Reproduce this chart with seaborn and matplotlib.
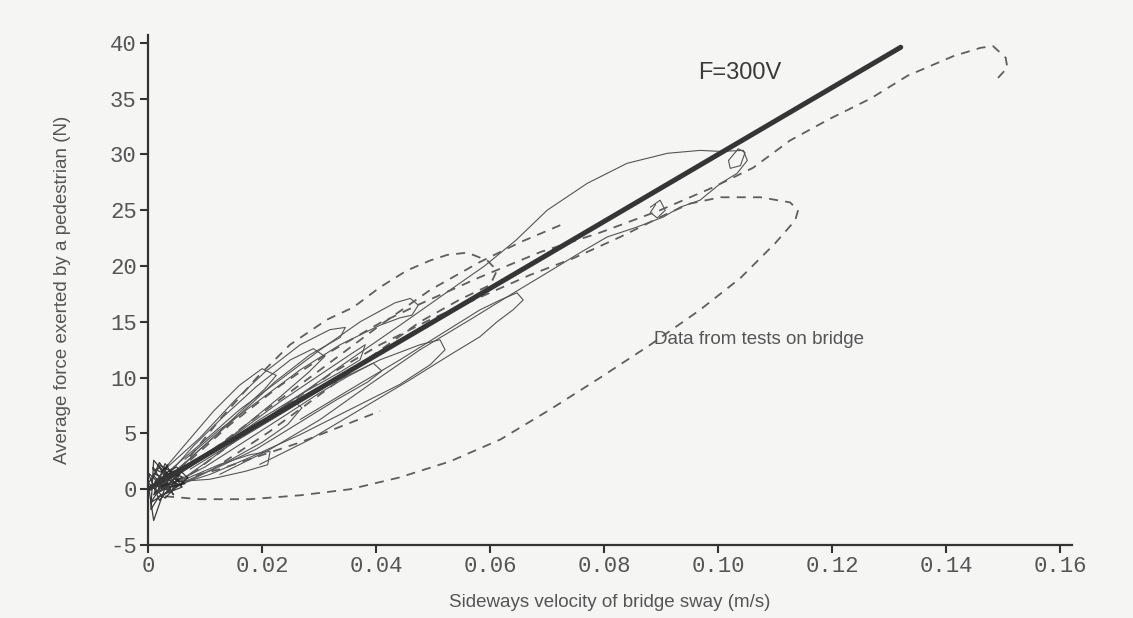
import pandas as pd
import matplotlib
matplotlib.use("Agg")
import matplotlib.pyplot as plt
import seaborn as sns

# fitted line F = 300V
fit_v = [0.0, 0.132]
fit_f = [0.0, 39.6]

# dashed traces (velocity m/s, force N)
big_low_v = [0.0030, 0.0091, 0.0179, 0.0267, 0.0354, 0.0442, 0.0530, 0.0618, 0.0705, 0.0793,
             0.0881, 0.0968, 0.1039, 0.1100, 0.1135, 0.1140, 0.1126, 0.1074, 0.1004, 0.0951,
             0.0911, 0.0828, 0.0746, 0.0670, 0.0582, 0.0495, 0.0407, 0.0319, 0.0232, 0.0144,
             0.0074, 0.0021]
big_low_f = [-0.63, -0.89, -0.89, -0.54, 0.0, 1.07, 2.5, 4.46, 7.14, 10.0,
             12.95, 16.07, 18.93, 22.05, 24.1, 25.0, 25.7, 26.16, 26.16, 25.6,
             24.7, 22.6, 20.7, 19.2, 17.2, 15.2, 12.95, 10.3, 7.1, 4.0,
             1.3, 0.2]

top_right_v = [0.0074, 0.0144, 0.0232, 0.0319, 0.0407, 0.0477, 0.0582, 0.0688, 0.0793, 0.0898,
               0.0991, 0.1061, 0.1126, 0.1196, 0.1267, 0.1332, 0.1412, 0.1460, 0.1482, 0.1504,
               0.1507, 0.1486]
top_right_f = [2.6, 5.8, 9.3, 12.3, 14.9, 16.6, 19.0, 21.25, 23.0, 25.0,
               27.05, 28.8, 31.25, 33.2, 35.0, 37.05, 38.8, 39.55, 39.7, 38.66,
               37.77, 36.6]

upper_left_v = [0.0056, 0.0126, 0.0191, 0.0249, 0.0314, 0.0360, 0.0407, 0.0454, 0.0495, 0.0525,
                0.0560, 0.0595, 0.0612, 0.0600, 0.0547, 0.0477, 0.0389, 0.0302, 0.0214, 0.0126]
upper_left_f = [1.79, 6.25, 10.0, 12.95, 15.2, 16.3, 18.1, 19.6, 20.5, 21.0,
                21.2, 20.5, 19.6, 18.3, 17.0, 15.0, 11.8, 8.5, 5.2, 2.2]

mid_dash_v = [0.0091, 0.0196, 0.0302, 0.0407, 0.0495, 0.0582, 0.0653, 0.0723]
mid_dash_f = [2.68, 6.7, 10.7, 14.7, 17.86, 20.36, 22.14, 23.66]

low_dash_v = [0.0056, 0.0126, 0.0196, 0.0267, 0.0337, 0.0407]
low_dash_f = [0.9, 1.8, 3.0, 4.2, 5.6, 7.0]

# solid traces
long_loop_v = [0.0179, 0.0267, 0.0354, 0.0442, 0.0530, 0.0590, 0.0645, 0.0700, 0.0770, 0.0840,
               0.0911, 0.0968, 0.1004, 0.1044, 0.1051, 0.1033, 0.1004, 0.0968, 0.0933, 0.0904,
               0.0858, 0.0805, 0.0758, 0.0700, 0.0635, 0.0565, 0.0477, 0.0389, 0.0302, 0.0214,
               0.0126]
long_loop_f = [5.36, 8.48, 11.6, 14.7, 17.86, 20.0, 22.3, 25.0, 27.4, 29.2,
               30.1, 30.36, 30.27, 30.36, 29.46, 28.3, 27.4, 25.9, 25.27, 24.4,
               23.5, 22.6, 21.2, 19.4, 17.4, 15.2, 12.5, 9.4, 6.25, 3.57,
               1.34]

small_loop_v = [0.0267, 0.0354, 0.0442, 0.0512, 0.0582, 0.0618, 0.0647, 0.0658, 0.0640, 0.0612,
                0.0582, 0.0530, 0.0460, 0.0372, 0.0284, 0.0196]
small_loop_f = [6.25, 8.93, 11.6, 13.84, 16.07, 16.96, 17.6, 16.96, 16.07, 15.0,
                13.66, 12.05, 9.82, 7.14, 4.46, 2.23]

band_a_v = [0.0030, 0.0091, 0.0161, 0.0232, 0.0302, 0.0372, 0.0433, 0.0460, 0.0474, 0.0463,
            0.0442, 0.0407, 0.0337, 0.0267, 0.0196, 0.0126, 0.0065]
band_a_f = [1.34, 4.0, 7.14, 9.82, 12.5, 15.0, 16.7, 17.1, 16.5, 15.6,
            15.36, 14.7, 12.95, 10.7, 8.0, 5.36, 2.68]

band_b_v = [0.0039, 0.0109, 0.0179, 0.0267, 0.0354, 0.0442, 0.0495, 0.0521, 0.0512, 0.0477,
            0.0407, 0.0319, 0.0232, 0.0144, 0.0074]
band_b_f = [0.18, 1.34, 2.86, 4.9, 7.14, 9.4, 11.16, 12.5, 13.4, 12.95,
            11.6, 9.4, 6.7, 4.0, 1.8]

band_c_v = [0.0021, 0.0091, 0.0161, 0.0232, 0.0302, 0.0354, 0.0381, 0.0372, 0.0337, 0.0267,
            0.0196, 0.0126, 0.0056]
band_c_f = [0.9, 2.86, 5.18, 7.86, 10.27, 12.05, 12.95, 11.6, 10.5, 8.48,
            6.25, 3.75, 1.6]

band_d_v = [0.0030, 0.0091, 0.0153, 0.0205, 0.0267, 0.0319, 0.0346, 0.0337, 0.0284, 0.0223,
            0.0161, 0.0091, 0.0039]
band_d_f = [1.8, 4.6, 8.0, 10.5, 12.95, 14.3, 14.5, 13.6, 12.05, 9.64,
            6.7, 3.57, 1.07]

band_e_v = [0.0056, 0.0126, 0.0179, 0.0214, 0.0210, 0.0170, 0.0109, 0.0056]
band_e_f = [0.7, 2.23, 3.1, 3.4, 2.2, 1.6, 0.9, 0.7]

band_f_v = [0.0040, 0.0100, 0.0170, 0.0240, 0.0300, 0.0350, 0.0395, 0.0410, 0.0385, 0.0330,
            0.0260, 0.0190, 0.0120, 0.0060]
band_f_f = [0.4, 2.0, 4.3, 6.6, 8.6, 10.1, 11.3, 10.6, 9.6, 8.0,
            5.8, 3.6, 1.9, 0.6]

band_g_v = [0.0030, 0.0080, 0.0130, 0.0190, 0.0250, 0.0290, 0.0310, 0.0280, 0.0230, 0.0170,
            0.0110, 0.0050]
band_g_f = [1.0, 3.9, 6.4, 9.2, 11.6, 12.6, 11.9, 10.4, 8.2, 5.7,
            3.2, 1.2]

band_h_v = [0.0050, 0.0090, 0.0140, 0.0200, 0.0245, 0.0270, 0.0255, 0.0215, 0.0160, 0.0110,
            0.0060]
band_h_f = [0.2, 1.2, 2.5, 4.2, 5.8, 7.3, 7.9, 6.6, 4.6, 2.7,
            0.9]

band_i_v = [0.0025, 0.0070, 0.0115, 0.0160, 0.0200, 0.0225, 0.0205, 0.0165, 0.0120, 0.0070,
            0.0030]
band_i_f = [1.6, 4.3, 7.0, 9.3, 10.8, 10.2, 9.0, 7.1, 4.9, 2.6,
            0.9]

curl_a_v = [0.0881, 0.0898, 0.0907, 0.0893, 0.0881, 0.0890]
curl_a_f = [25.27, 25.9, 25.0, 24.3, 24.8, 25.5]

curl_b_v = [0.1018, 0.1035, 0.1047, 0.1039, 0.1021, 0.1018]
curl_b_f = [29.46, 30.5, 30.18, 29.0, 28.75, 29.46]

blob_v = [0.000, 0.002, 0.004, 0.001, 0.003, 0.005, 0.002, 0.000, 0.003, 0.006,
          0.004, 0.001, 0.002, 0.005, 0.003, 0.000, 0.001, 0.004, 0.006, 0.002,
          0.0005, 0.001, 0.003, 0.005, 0.007, 0.004, 0.001, 0.0035, 0.0015, 0.0055,
          0.0025, 0.0045, 0.0008, 0.0065, 0.003, 0.0012, 0.0048, 0.0022, 0.0060, 0.0018,
          0.0040, 0.0005, 0.0032, 0.0058, 0.0010]
blob_f = [0.5, 2.0, 1.0, -0.5, 2.3, 0.8, -1.0, 1.5, 0.0, 1.8,
          -0.3, 1.2, 2.4, 0.3, -0.8, 0.6, -2.8, 1.6, 0.2, -0.6,
          -1.8, 2.6, 1.4, 2.0, 1.0, -0.2, 0.4, 2.2, -0.4, 1.3,
          0.9, -0.5, 1.9, 0.5, 0.1, 0.7, 1.7, -0.2, 1.1, 2.2,
          0.0, -1.2, 1.0, 0.3, 1.4]

solid = {"long": (long_loop_v, long_loop_f), "small": (small_loop_v, small_loop_f),
         "a": (band_a_v, band_a_f), "b": (band_b_v, band_b_f), "c": (band_c_v, band_c_f),
         "d": (band_d_v, band_d_f), "e": (band_e_v, band_e_f), "f": (band_f_v, band_f_f),
         "g": (band_g_v, band_g_f), "h": (band_h_v, band_h_f), "i": (band_i_v, band_i_f),
         "curl_a": (curl_a_v, curl_a_f), "curl_b": (curl_b_v, curl_b_f)}
dashed = {"big_low": (big_low_v, big_low_f), "top_right": (top_right_v, top_right_f),
          "upper_left": (upper_left_v, upper_left_f), "mid": (mid_dash_v, mid_dash_f),
          "low": (low_dash_v, low_dash_f)}


def to_frame(curves):
    rows = []
    for name, (vs, fs) in curves.items():
        for i, (v, f) in enumerate(zip(vs, fs)):
            rows.append({"curve": name, "order": i, "v": v, "f": f})
    return pd.DataFrame(rows)


solid_df = to_frame(solid)
dashed_df = to_frame(dashed)

sns.set_style("ticks")
plt.rcParams["font.family"] = ["Liberation Sans", "DejaVu Sans"]

bg = "#f5f5f4"
fig = plt.figure(figsize=(11.33, 6.18), dpi=100, facecolor=bg)
ax = fig.add_axes([0.1306, 0.118, 0.8154, 0.8254])
ax.set_facecolor(bg)

sns.lineplot(data=solid_df, x="v", y="f", units="curve", estimator=None, sort=False,
             color="#555555", linewidth=0.8, ax=ax)
n_solid = len(ax.lines)
sns.lineplot(data=dashed_df, x="v", y="f", units="curve", estimator=None, sort=False,
             color="#5e5e5e", linewidth=1.3, ax=ax)
for line in ax.lines[n_solid:]:
    line.set_dashes((5, 4))
ax.plot(blob_v, blob_f, color="#1e1e1e", linewidth=0.9, alpha=0.85)
sns.lineplot(x=fit_v, y=fit_f, color="#353535", linewidth=3.6, ax=ax)
ax.lines[-1].set_solid_capstyle("round")

ax.text(0.0965, 37.3, "F=300V", fontsize=17, color="#3a3a3a", va="center")
ax.text(0.0888, 13.4, "Data from tests on bridge", fontsize=13.5, color="#555555", va="center")

ax.set_xlim(0, 0.162)
ax.set_ylim(-5, 40.7)
x_ticks = [0, 0.02, 0.04, 0.06, 0.08, 0.10, 0.12, 0.14, 0.16]
x_labels = ["0", "0.02", "0.04", "0.06", "0.08", "0.10", "0.12", "0.14", "0.16"]
y_ticks = [-5, 0, 5, 10, 15, 20, 25, 30, 35, 40]
y_labels = ["-5", "0", "5", "10", "15", "20", "25", "30", "35", "40"]
ax.set_xticks(x_ticks)
ax.set_xticklabels(x_labels, family="Liberation Mono", fontsize=16, color="#555555")
ax.set_yticks(y_ticks)
ax.set_yticklabels(y_labels, family="Liberation Mono", fontsize=16, color="#555555")
ax.tick_params(axis="both", length=6, width=1.5, color="#333333", pad=2)

for side in ["top", "right"]:
    ax.spines[side].set_visible(False)
for side in ["left", "bottom"]:
    ax.spines[side].set_linewidth(1.6)
    ax.spines[side].set_color("#333333")

ax.set_xlabel("Sideways velocity of bridge sway (m/s)", fontsize=13.5, color="#555555", labelpad=12)
ax.set_ylabel("Average force exerted by a pedestrian (N)", fontsize=13.5, color="#555555", labelpad=28)

fig.savefig("out.png", dpi=100, facecolor=fig.get_facecolor())
